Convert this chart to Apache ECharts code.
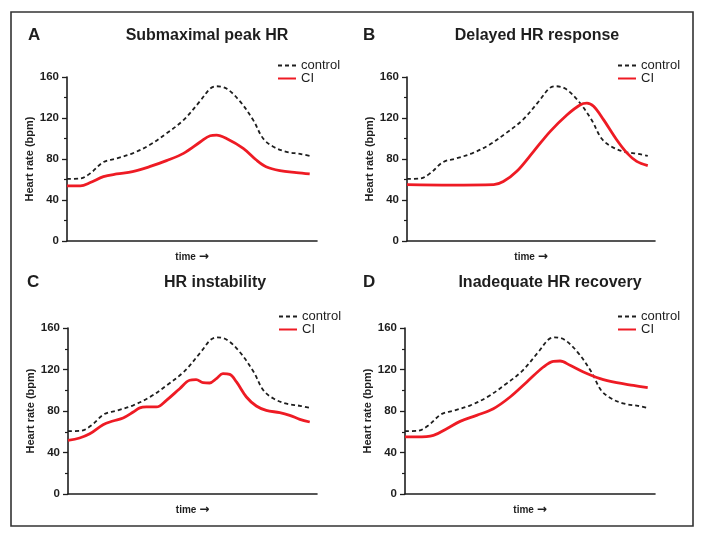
<!DOCTYPE html>
<html>
<head>
<meta charset="utf-8">
<script src="https://cdn.jsdelivr.net/npm/echarts@6/dist/echarts.min.js"></script>
<style>
html,body{margin:0;padding:0;background:#fff;}
#chart{width:701px;height:534px;}
</style>
</head>
<body>
<div id="chart"></div>
<script>
// ---- data ----
const panelLetters = ['A', 'B', 'C', 'D'];
const panelTitles = ['Submaximal peak HR', 'Delayed HR response', 'HR instability', 'Inadequate HR recovery'];
const yTicks = [0, 40, 80, 120, 160];
const yAxisName = 'Heart rate (bpm)';
const xAxisWord = 'time';
const xAxisArrow = '\u2192';
const seriesNames = ['control', 'CI'];

const timeControl = [0, 5.5, 9.6, 15, 20.5, 27, 34, 41, 48, 55, 59, 61.6, 65.7, 71, 76.7, 80.8, 85, 90.4, 96, 100];
const hrControl = [60.6, 61, 66, 77, 80.6, 85.5, 93.6, 105, 118, 137, 148.7, 151, 148.7, 137, 118, 100, 92, 87, 85, 83];

const timeCI_A = [0, 5.5, 9.6, 15, 20.5, 27, 34, 41, 48, 55, 59, 61.6, 65.7, 72.6, 78, 82, 87.7, 94.5, 100];
const hrCI_A = [53.8, 53.8, 57, 62.8, 65.4, 67.7, 72.5, 78.4, 85.5, 96.8, 102.7, 103.3, 100, 90.4, 79, 72.5, 68.7, 66.7, 65.4];

const timeCI_B = [0, 18, 36, 40, 45.6, 52.6, 59.5, 66.4, 72, 74.7, 77.5, 81.6, 87, 91.3, 95.4, 100];
const hrCI_B = [55, 54.6, 55, 58, 68, 87.5, 107, 123, 133, 134.6, 131.4, 118.4, 99, 86, 77.7, 73.5];

const timeCI_C = [0, 4.8, 9, 14.5, 18.6, 22.8, 27, 29.7, 32.4, 36.6, 40.7, 46.2, 50.3, 53, 55.9, 58.6, 61.4, 64.1, 66.9, 69.7, 73.8, 77.9, 82, 87.6, 91.7, 95.9, 100];
const hrCI_C = [51.7, 54, 58, 66.8, 70.4, 73.3, 79, 83, 83.9, 83.9, 90.3, 101.5, 109.6, 110.2, 107.3, 107, 111.2, 116, 115.3, 108, 93.5, 84.8, 80.6, 78.4, 75.8, 72, 69.4];

const timeCI_D = [0, 4.8, 11.7, 17.2, 22.7, 29.5, 36.4, 43.3, 50.2, 57, 61.1, 63.9, 68, 73.5, 80.4, 87.2, 94.1, 100];
const hrCI_D = [55, 55, 56.5, 63, 70, 75.8, 82.2, 93.5, 108, 122.4, 127.9, 128.2, 124, 117.6, 111.2, 107.3, 104.7, 102.5];

// ---- layout ----
const FONT = '"Liberation Sans", Arial, sans-serif';
const DARK = '#1e1e1e';
const RED = '#ee1b24';
const ciTimes = [timeCI_A, timeCI_B, timeCI_C, timeCI_D];
const ciValues = [hrCI_A, hrCI_B, hrCI_C, hrCI_D];

const grids = [
  {left: 67, top: 77, width: 250, height: 164},
  {left: 407, top: 77, width: 248, height: 164},
  {left: 68, top: 328, width: 249, height: 166},
  {left: 405, top: 328, width: 250, height: 166}
];
const titlePos = [
  {cx: 207, top: 28, lx: 28, ltop: 27},
  {cx: 537, top: 28, lx: 363, ltop: 27},
  {cx: 215, top: 275, lx: 27, ltop: 274},
  {cx: 550, top: 275, lx: 363, ltop: 274}
];
const legendPos = [
  {left: 277, top: 59},
  {left: 617, top: 59},
  {left: 278, top: 310},
  {left: 617, top: 310}
];

function pairs(t, v) { return t.map((x, i) => [x, v[i]]); }

const option = {
  animation: false,
  backgroundColor: '#fff',
  title: [],
  legend: [],
  grid: grids,
  xAxis: [],
  yAxis: [],
  series: [],
  graphic: [{
    type: 'rect',
    shape: {x: 11, y: 12, width: 682, height: 514},
    style: {fill: 'none', stroke: '#333', lineWidth: 1.6},
    silent: true
  }]
};

for (let i = 0; i < 4; i++) {
  option.title.push({
    text: panelTitles[i], left: titlePos[i].cx, top: titlePos[i].top, textAlign: 'center', padding: 0,
    textStyle: {fontFamily: FONT, fontSize: 16, fontWeight: 'bold', color: DARK}
  });
  option.title.push({
    text: panelLetters[i], left: titlePos[i].lx, top: titlePos[i].ltop, padding: 0,
    textStyle: {fontFamily: FONT, fontSize: 17, fontWeight: 'bold', color: DARK}
  });
  option.legend.push({
    orient: 'vertical', left: legendPos[i].left, top: legendPos[i].top, padding: 0,
    itemWidth: 18, itemHeight: 12, itemGap: 0, selectedMode: false,
    data: seriesNames,
    itemStyle: {opacity: 0},
    textStyle: {fontFamily: FONT, fontSize: 13, color: DARK, lineHeight: 12}
  });
  option.xAxis.push({
    type: 'value', gridIndex: i, min: 0, max: 103,
    name: xAxisWord + ' {arr|' + xAxisArrow + '}', nameLocation: 'middle', nameGap: 10,
    nameTextStyle: {
      fontFamily: FONT, fontSize: 10, fontWeight: 'bold', color: DARK,
      rich: {arr: {fontFamily: '"DejaVu Sans", sans-serif', fontSize: 12, fontWeight: 'bold', color: DARK}}
    },
    axisLine: {show: true, onZero: false, lineStyle: {color: DARK, width: 1.6}},
    axisTick: {show: false}, axisLabel: {show: false}, splitLine: {show: false}
  });
  option.yAxis.push({
    type: 'value', gridIndex: i, min: yTicks[0], max: yTicks[yTicks.length - 1], interval: 40,
    name: yAxisName, nameLocation: 'middle', nameGap: 31,
    nameTextStyle: {fontFamily: FONT, fontSize: 11, fontWeight: 'bold', color: DARK},
    axisLine: {show: true, lineStyle: {color: DARK, width: 1.6}},
    axisTick: {show: true, length: 5, lineStyle: {color: DARK, width: 1.3}},
    minorTick: {show: true, splitNumber: 2, length: 3, lineStyle: {color: DARK, width: 1.2}},
    axisLabel: {margin: 8, fontFamily: FONT, fontSize: 11.5, fontWeight: 'bold', color: DARK},
    splitLine: {show: false}
  });
  option.series.push({
    name: seriesNames[0], type: 'line', xAxisIndex: i, yAxisIndex: i,
    data: pairs(timeControl, hrControl), smooth: 0.35, showSymbol: false, symbol: 'none',
    lineStyle: {color: DARK, width: 1.8, type: [4, 3]}, itemStyle: {color: DARK}, z: 3
  });
  option.series.push({
    name: seriesNames[1], type: 'line', xAxisIndex: i, yAxisIndex: i,
    data: pairs(ciTimes[i], ciValues[i]), smooth: 0.35, showSymbol: false, symbol: 'none',
    lineStyle: {color: RED, width: 2.8}, itemStyle: {color: RED}, z: 4
  });
}

const chart = echarts.init(document.getElementById('chart'), null, {renderer: 'canvas'});
chart.setOption(option);
</script>
</body>
</html>
